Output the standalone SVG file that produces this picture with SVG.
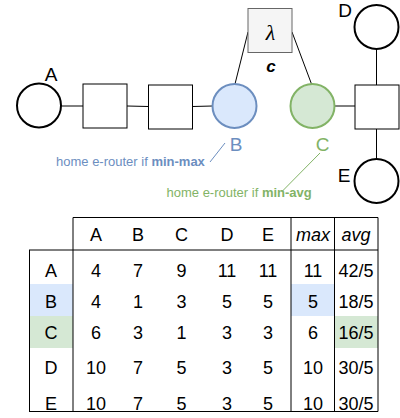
<svg xmlns="http://www.w3.org/2000/svg" width="400" height="418" viewBox="0 0 400 418">
<style>
.sq{fill:#fff;stroke:#000;stroke-width:1}
.cir{fill:#fff;stroke:#000;stroke-width:2}
.ln{stroke:#000;stroke-width:1;fill:none}
.lbl{font-family:"Liberation Sans",Arial,sans-serif;font-size:19px;text-anchor:middle;fill:#000}
.t{font-family:"Liberation Sans",Arial,sans-serif;font-size:18px;text-anchor:middle;fill:#000}
.it{font-style:italic}
.tl{stroke:#000;stroke-width:1;fill:none}
.note{font-family:"Liberation Sans",Arial,sans-serif;font-size:13px}
</style>
<rect width="400" height="418" fill="#fff"/>
<g id="connectors">
<line class="ln" x1="61.5" y1="106" x2="83" y2="106"/>
<line class="ln" x1="127" y1="106" x2="148.5" y2="106.5"/>
<line class="ln" x1="192.5" y1="106.5" x2="212.5" y2="106"/>
<line class="ln" x1="334.5" y1="106" x2="355" y2="106"/>
<line class="ln" x1="376.5" y1="50" x2="376.5" y2="85"/>
<line class="ln" x1="376.5" y1="129" x2="376.5" y2="158.5"/>
<line class="ln" x1="248" y1="32" x2="235" y2="84"/>
<line class="ln" x1="292" y1="32" x2="311.5" y2="84"/>
<line x1="225" y1="143" x2="210" y2="162" stroke="#6c8ebf" stroke-width="1"/>
<line x1="320" y1="153" x2="281.5" y2="192" stroke="#82b366" stroke-width="1"/>
</g>
<g id="node-A">
<circle class="cir" cx="39" cy="105.5" r="22"/>
<text class="lbl" x="51" y="80.5">A</text>
</g>
<g id="node-sq1"><rect class="sq" x="83" y="84" width="44" height="44"/></g>
<g id="node-sq2"><rect class="sq" x="148.5" y="85" width="44" height="44"/></g>
<g id="node-B">
<circle cx="234.5" cy="106" r="22" fill="#dae8fc" stroke="#6c8ebf" stroke-width="2"/>
<text class="lbl" x="236" y="151" style="fill:#6c8ebf">B</text>
</g>
<g id="node-C">
<circle cx="312.5" cy="106" r="22" fill="#d5e8d4" stroke="#82b366" stroke-width="2"/>
<text class="lbl" x="322.5" y="151" style="fill:#82b366">C</text>
</g>
<g id="node-lambda">
<rect x="248" y="8.5" width="44" height="44" fill="#f5f5f5" stroke="#666666" stroke-width="1"/>
<text x="270.5" y="39.5" font-family="'Liberation Serif','Times New Roman',serif" font-style="italic" font-size="22" text-anchor="middle">λ</text>
<text x="271" y="71.5" font-family="'Liberation Sans',Arial,sans-serif" font-style="italic" font-weight="bold" font-size="17" text-anchor="middle">c</text>
</g>
<g id="node-sq3"><rect class="sq" x="355" y="85" width="44" height="44"/></g>
<g id="node-D">
<circle class="cir" cx="376.5" cy="27" r="22"/>
<text class="lbl" x="345" y="16.5">D</text>
</g>
<g id="node-E">
<circle class="cir" cx="376.5" cy="181" r="22"/>
<text class="lbl" x="344" y="181.5">E</text>
</g>
<g id="note-minmax">
<text class="note" x="56" y="166" fill="#6c8ebf">home e-router if <tspan font-weight="bold">min-max</tspan></text>
</g>
<g id="note-minavg">
<text class="note" x="166.5" y="197" fill="#82b366">home e-router if <tspan font-weight="bold">min-avg</tspan></text>
</g>
<g id="table">
<rect x="29.5" y="284" width="43.5" height="32" fill="#dae8fc"/>
<rect x="29.5" y="316" width="43.5" height="32" fill="#d5e8d4"/>
<rect x="291" y="284" width="43.5" height="32" fill="#dae8fc"/>
<rect x="334.5" y="316" width="43.5" height="32" fill="#d5e8d4"/>
<line class="tl" x1="73" y1="217.5" x2="378" y2="217.5"/>
<line class="tl" x1="29" y1="250" x2="378" y2="250"/>
<line class="tl" x1="29" y1="411.5" x2="378" y2="411.5"/>
<line class="tl" x1="29.5" y1="250" x2="29.5" y2="411.5"/>
<line class="tl" x1="73" y1="217.5" x2="73" y2="411.5"/>
<line class="tl" x1="291" y1="217.5" x2="291" y2="411.5"/>
<line class="tl" x1="334.5" y1="217.5" x2="334.5" y2="411.5"/>
<line class="tl" x1="378" y1="217.5" x2="378" y2="411.5"/>
<g class="t">
<text class="t" x="96" y="241">A</text>
<text class="t" x="138" y="241">B</text>
<text class="t" x="181.5" y="241">C</text>
<text class="t" x="227" y="241">D</text>
<text class="t" x="268" y="241">E</text>
<text class="t it" x="313" y="241">max</text>
<text class="t it" x="356" y="241">avg</text>

<text class="t" x="51" y="276.5">A</text>
<text class="t" x="96" y="276.5">4</text>
<text class="t" x="138" y="276.5">7</text>
<text class="t" x="181.5" y="276.5">9</text>
<text class="t" x="227" y="276.5">11</text>
<text class="t" x="268" y="276.5">11</text>
<text class="t" x="313" y="276.5">11</text>
<text class="t" x="356" y="276.5">42/5</text>

<text class="t" x="51" y="308">B</text>
<text class="t" x="96" y="308">4</text>
<text class="t" x="138" y="308">1</text>
<text class="t" x="181.5" y="308">3</text>
<text class="t" x="227" y="308">5</text>
<text class="t" x="268" y="308">5</text>
<text class="t" x="313" y="308">5</text>
<text class="t" x="356" y="308">18/5</text>

<text class="t" x="51" y="339">C</text>
<text class="t" x="96" y="339">6</text>
<text class="t" x="138" y="339">3</text>
<text class="t" x="181.5" y="339">1</text>
<text class="t" x="227" y="339">3</text>
<text class="t" x="268" y="339">3</text>
<text class="t" x="313" y="339">6</text>
<text class="t" x="356" y="339">16/5</text>

<text class="t" x="51" y="374">D</text>
<text class="t" x="96" y="374">10</text>
<text class="t" x="138" y="374">7</text>
<text class="t" x="181.5" y="374">5</text>
<text class="t" x="227" y="374">3</text>
<text class="t" x="268" y="374">5</text>
<text class="t" x="313" y="374">10</text>
<text class="t" x="356" y="374">30/5</text>

<text class="t" x="51" y="410">E</text>
<text class="t" x="96" y="410">10</text>
<text class="t" x="138" y="410">7</text>
<text class="t" x="181.5" y="410">5</text>
<text class="t" x="227" y="410">3</text>
<text class="t" x="268" y="410">5</text>
<text class="t" x="313" y="410">10</text>
<text class="t" x="356" y="410">30/5</text>
</g>
</g>
</svg>
